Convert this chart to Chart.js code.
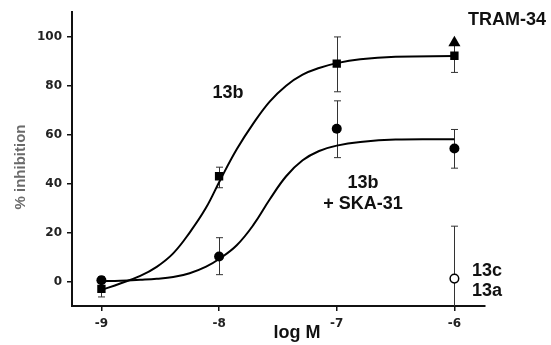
<!DOCTYPE html>
<html><head><meta charset="utf-8">
<script src="https://cdn.jsdelivr.net/npm/chart.js@4/dist/chart.umd.min.js"></script>
<style>html,body{margin:0;padding:0;background:#fff;}#wrap{width:551px;height:345px;}</style>
</head><body><div id="wrap"><canvas id="c" width="551" height="345"></canvas></div>
<script>
const xTicks = [-9, -8, -7, -6];
const yTicks = [0, 20, 40, 60, 80, 100];

const doseX = [-9, -8, -7, -6];
const mean13b = [-3, 43, 89, 92.2];
const low13b = [-6.3, 38.3, 77.5, 85.4];
const high13b = [0, 46.7, 99.9, 97];

const meanSka = [0.5, 10.2, 62.4, 54.3];
const lowSka = [-0.5, 2.8, 50.6, 46.3];
const highSka = [2, 17.9, 73.8, 62.1];

const openX = [-6];
const meanOpen = [1.2];
const lowOpen = [-21];
const highOpen = [22.6];

const tramX = [-6];
const meanTram = [97.5];

const fitX   = [-9.0, -8.84, -8.67, -8.53, -8.39, -8.25, -8.11, -7.99, -7.85, -7.71, -7.57, -7.43, -7.29, -7.15, -7.0, -6.8, -6.5, -6.0];
const fit13b = [-3.5, -0.8, 2.3, 6.0, 11.5, 20.0, 30.2, 41.5, 54.0, 64.5, 73.5, 80.0, 84.5, 87.2, 89.2, 90.8, 91.8, 92.1];
const fitSka = [0.1, 0.3, 0.7, 1.1, 1.8, 3.4, 6.1, 9.5, 14.8, 23.0, 33.5, 43.0, 49.5, 53.3, 55.5, 57.0, 58.0, 58.1];

const pts = (xs, ys) => xs.map((v, i) => ({x: v, y: ys[i]}));

const tickFont = {family: 'DejaVu Sans', weight: 'bold', size: 12};
const labelFont = 'bold 18px "Liberation Sans", Arial, sans-serif';

const errPlugin = {
  id: 'errbars',
  beforeDatasetsDraw(chart) {
    const {ctx, chartArea: a, scales: {x, y}} = chart;
    ctx.save();
    ctx.beginPath();
    ctx.rect(a.left, a.top - 5, a.right - a.left, a.bottom - a.top + 5);
    ctx.clip();
    ctx.strokeStyle = '#333';
    ctx.lineWidth = 1;
    const groups = [[doseX, low13b, high13b], [doseX, lowSka, highSka], [openX, lowOpen, highOpen]];
    for (const [xs, lo, hi] of groups) {
      xs.forEach((v, i) => {
        const px = Math.round(x.getPixelForValue(v)) + 0.5;
        const pl = y.getPixelForValue(lo[i]);
        const ph = y.getPixelForValue(hi[i]);
        ctx.beginPath();
        ctx.moveTo(px, pl); ctx.lineTo(px, ph);
        if (lo[i] > y.min) { ctx.moveTo(px - 3.5, pl); ctx.lineTo(px + 3.5, pl); }
        ctx.moveTo(px - 3.5, ph); ctx.lineTo(px + 3.5, ph);
        ctx.stroke();
      });
    }
    ctx.restore();
  }
};

const textPlugin = {
  id: 'texts',
  afterDraw(chart) {
    const ctx = chart.ctx;
    ctx.save();
    ctx.fillStyle = '#111';
    ctx.font = labelFont;
    ctx.textAlign = 'center';
    ctx.textBaseline = 'middle';
    ctx.fillText('13b', 228, 93);
    ctx.fillText('13b', 363, 183);
    ctx.fillText('+ SKA-31', 363, 204);
    ctx.fillText('TRAM-34', 507, 20);
    ctx.fillText('13c', 487, 271);
    ctx.fillText('13a', 487, 291);
    ctx.fillText('log M', 297, 333);
    ctx.fillStyle = '#6a6a6a';
    ctx.font = 'bold 15px "Liberation Sans", Arial, sans-serif';
    ctx.translate(21, 167);
    ctx.rotate(-Math.PI / 2);
    ctx.fillText('% inhibition', 0, 0);
    ctx.restore();
  }
};

const axisCommon = {
  grid: {display: true, drawOnChartArea: false, drawTicks: true, tickLength: 5, color: '#111', lineWidth: 1.5},
  border: {display: true, color: '#111', width: 2},
  ticks: {font: tickFont, color: '#222'}
};

new Chart(document.getElementById('c'), {
  type: 'scatter',
  data: {
    datasets: [
      {type: 'line', data: pts(fitX, fit13b), borderColor: '#000', borderWidth: 2, pointRadius: 0, tension: 0.4, fill: false, order: 10},
      {type: 'line', data: pts(fitX, fitSka), borderColor: '#000', borderWidth: 2, pointRadius: 0, tension: 0.4, fill: false, order: 10},
      {data: pts(doseX, mean13b), pointStyle: 'rect', pointRadius: 5.9, backgroundColor: '#000', borderColor: '#000', borderWidth: 0, order: 2},
      {data: pts(doseX, meanSka), pointStyle: 'circle', pointRadius: 5, backgroundColor: '#000', borderColor: '#000', borderWidth: 0, order: 2},
      {data: pts(openX, meanOpen), pointStyle: 'circle', pointRadius: 4.3, backgroundColor: '#fff', borderColor: '#000', borderWidth: 1.5, order: 1},
      {data: pts(tramX, meanTram), pointStyle: 'triangle', pointRadius: 7, backgroundColor: '#000', borderColor: '#000', borderWidth: 0, order: 1}
    ]
  },
  options: {
    responsive: false,
    animation: false,
    devicePixelRatio: 1,
    layout: {padding: {top: 8, right: 66, left: 0, bottom: 0}},
    plugins: {legend: {display: false}, tooltip: {enabled: false}},
    scales: {
      x: Object.assign({}, axisCommon, {
        type: 'linear', min: -9.25, max: -5.74,
        ticks: Object.assign({}, axisCommon.ticks, {padding: 6}),
        afterBuildTicks(s) { s.ticks = xTicks.map(v => ({value: v})); },
        afterFit(s) { s.height = 39; }
      }),
      y: Object.assign({}, axisCommon, {
        type: 'linear', min: -10, max: 110,
        ticks: Object.assign({}, axisCommon.ticks, {padding: 5}),
        afterBuildTicks(s) { s.ticks = yTicks.map(v => ({value: v})); },
        afterFit(s) { s.width = 72; }
      })
    }
  },
  plugins: [errPlugin, textPlugin]
});
</script></body></html>
